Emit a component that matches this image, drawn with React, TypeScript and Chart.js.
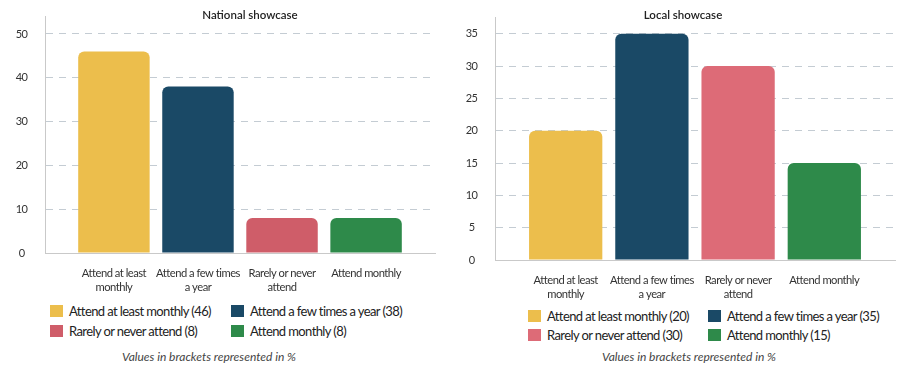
import React, { useEffect, useRef } from "react";
import { Chart, registerables } from "chart.js";
Chart.register(...registerables);

const categoryLabels: string[][] = [
  ["Attend at least", "monthly"],
  ["Attend a few times", "a year"],
  ["Rarely or never", "attend"],
  ["Attend monthly"],
];
const legendNames = [
  "Attend at least monthly",
  "Attend a few times a year",
  "Rarely or never attend",
  "Attend monthly",
];
const nationalValues = [46, 38, 8, 8];
const localValues = [20, 35, 30, 15];
const nationalTicks = [0, 10, 20, 30, 40, 50];
const localTicks = [0, 5, 10, 15, 20, 25, 30, 35];
const nationalColors = ["#ECBE4C", "#1A4966", "#CF5D69", "#2E8A4A"];
const localColors = ["#ECBE4C", "#1A4966", "#DD6B77", "#2E8A4A"];
const footnote = "Values in brackets represented in %";

const FONT = "Lato, 'Open Sans', sans-serif";

const tightText = {
  id: "tightText",
  beforeDraw(chart: any) {
    chart.ctx.letterSpacing = "-0.5px";
  },
};

type PanelProps = {
  title: string;
  values: number[];
  colors: string[];
  ticks: number[];
  yMax: number;
  left: number;
  width: number;
  height: number;
  padTop: number;
  padRight: number;
  titleX: number;
  legendX: [number, number];
  legendY: [number, number];
  footX: number;
};

function Panel(p: PanelProps) {
  const ref = useRef<HTMLCanvasElement | null>(null);
  useEffect(() => {
    if (!ref.current) return;
    const chart = new Chart(ref.current, {
      type: "bar",
      data: {
        datasets: [
          {
            data: p.values.map((v, i) => ({ x: i, y: v })),
            backgroundColor: p.colors,
            borderRadius: 6,
            borderSkipped: "start",
            barPercentage: 0.85,
            categoryPercentage: 1,
          },
        ],
      },
      plugins: [tightText],
      options: {
        responsive: false,
        animation: false,
        devicePixelRatio: 1,
        layout: { padding: { top: p.padTop, right: p.padRight, left: 0, bottom: 0 } },
        plugins: { legend: { display: false }, tooltip: { enabled: false }, title: { display: false } },
        scales: {
          x: {
            type: "linear",
            offset: false,
            min: -0.82,
            max: categoryLabels.length - 1 + 0.82,
            grid: { display: false, drawTicks: false, offset: false },
            border: { display: true, color: "#c9c9c9", width: 1 },
            afterBuildTicks: (scale: any) => {
              scale.ticks = categoryLabels.map((_, i) => ({ value: i }));
            },
            afterFit: (scale: any) => {
              scale.height = 45;
            },
            ticks: {
              autoSkip: false,
              maxRotation: 0,
              minRotation: 0,
              padding: 13,
              color: "#333",
              font: { family: FONT, size: 11.2, lineHeight: 1.25 },
              callback: (v: any) => categoryLabels[Math.round(Number(v))] ?? "",
            },
          },
          y: {
            type: "linear",
            min: 0,
            max: p.yMax,
            afterBuildTicks: (scale: any) => {
              scale.ticks = p.ticks.map((v) => ({ value: v }));
            },
            afterFit: (scale: any) => {
              scale.width = 45;
              scale.paddingTop = 0;
              scale.paddingBottom = 0;
            },
            grid: { color: "#c4ccd3", lineWidth: 1, drawTicks: false },
            border: { display: true, color: "#c9c9c9", width: 1, dash: [7, 6] },
            ticks: {
              crossAlign: "center",
              padding: 17,
              color: "#333",
              font: { family: FONT, size: 11 },
            },
          },
        },
      },
    } as any);
    return () => chart.destroy();
  }, []);

  const swatch = (c: string): React.CSSProperties => ({
    display: "inline-block",
    flex: "none",
    width: 13,
    height: 12,
    background: c,
    marginRight: 6,
  });
  const legendItem = (i: number, x: number, y: number) => (
    <div
      key={i}
      style={{
        position: "absolute",
        left: x - p.left,
        top: y - 8,
        height: 16,
        lineHeight: "16px",
        whiteSpace: "nowrap",
        fontSize: 13,
        letterSpacing: "-0.6px",
        color: "#222",
        display: "flex",
        alignItems: "center",
      }}
    >
      <span style={swatch(p.colors[i])} />
      <span>{`${legendNames[i]} (${p.values[i]})`}</span>
    </div>
  );

  return (
    <div style={{ position: "absolute", left: p.left, top: 0, width: p.width, height: 367, fontFamily: FONT }}>
      <canvas
        ref={ref}
        width={p.width}
        height={p.height}
        style={{ position: "absolute", left: 0, top: 0, width: p.width, height: p.height }}
      />
      <div
        style={{
          position: "absolute",
          left: p.titleX - p.left - 100,
          width: 200,
          top: 7,
          textAlign: "center",
          fontSize: 11.5,
          fontWeight: 600,
          color: "#222",
          lineHeight: "16px",
        }}
      >
        {p.title}
      </div>
      {legendItem(0, p.legendX[0], p.legendY[0])}
      {legendItem(1, p.legendX[1], p.legendY[0])}
      {legendItem(2, p.legendX[0], p.legendY[1])}
      {legendItem(3, p.legendX[1], p.legendY[1])}
      <div
        style={{
          position: "absolute",
          left: p.footX - p.left - 120,
          width: 240,
          top: 349,
          textAlign: "center",
          fontSize: 12,
          fontStyle: "italic",
          color: "#444",
          lineHeight: "16px",
        }}
      >
        {footnote}
      </div>
    </div>
  );
}

export default function App() {
  return (
    <div style={{ position: "fixed", left: 0, top: 0, width: 905, height: 367, background: "#fff", overflow: "hidden" }}>
      <Panel
        title="National showcase"
        values={nationalValues}
        colors={nationalColors}
        ticks={nationalTicks}
        yMax={54.1}
        left={0}
        width={450}
        height={298}
        padTop={16}
        padRight={15}
        titleX={250}
        legendX={[50, 231]}
        legendY={[311, 331]}
        footX={209}
      />
      <Panel
        title="Local showcase"
        values={localValues}
        colors={localColors}
        ticks={localTicks}
        yMax={37.6}
        left={450}
        width={455}
        height={305}
        padTop={17}
        padRight={10}
        titleX={683}
        legendX={[528, 708]}
        legendY={[316, 335]}
        footX={689}
      />
    </div>
  );
}
